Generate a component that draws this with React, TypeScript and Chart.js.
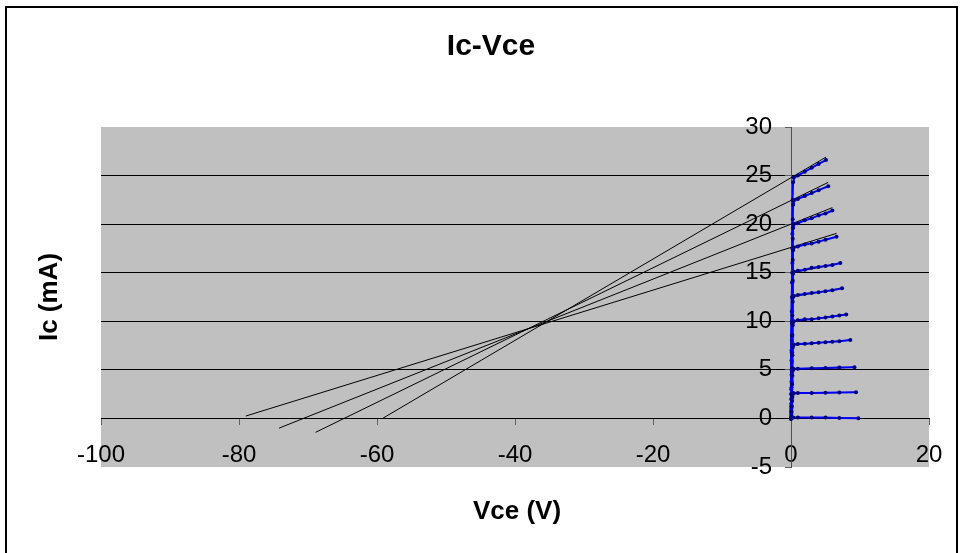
import React, { useEffect, useRef } from 'react';
import { Chart, registerables } from 'chart.js';

Chart.register(...registerables);

const chartTitle = 'Ic-Vce';
const xTitle = 'Vce (V)';
const yTitle = 'Ic (mA)';

const xMin = -100;
const xMax = 20;
const xStep = 20;
const yMin = -5;
const yMax = 30;
const yStep = 5;

// Measured curves (Vce in V, Ic in mA), one per base current step
const vce1 = [0, 0.1, 0.3, 1, 3, 5, 7, 9.76];
const ic1 = [0, 0.08, 0.1, 0.1, 0.1, 0.1, 0.05, 0.02];
const vce2 = [0, 0.04, 0.08, 0.12, 0.16, 0.2, 0.25, 0.3, 0.4, 1, 3, 5, 7, 9.43];
const ic2 = [0, 0.2, 0.7, 1.2, 1.8, 2.2, 2.5, 2.58, 2.6, 2.61, 2.63, 2.65, 2.67, 2.69];
const vce3 = [0, 0.04, 0.08, 0.12, 0.16, 0.2, 0.25, 0.3, 0.4, 1, 3, 5, 7, 9.2];
const ic3 = [0, 0.4, 1.3, 2.4, 3.5, 4.4, 4.9, 5.05, 5.1, 5.12, 5.16, 5.2, 5.23, 5.26];
const vce4 = [0, 0.04, 0.08, 0.12, 0.16, 0.2, 0.25, 0.3, 0.4, 1, 2, 3, 4, 5, 6, 7, 8.6];
const ic4 = [0, 0.6, 2.0, 3.6, 5.2, 6.5, 7.3, 7.5, 7.6, 7.65, 7.7, 7.75, 7.8, 7.85, 7.9, 7.95, 8.07];
const vce5 = [0, 0.04, 0.08, 0.12, 0.16, 0.2, 0.25, 0.3, 0.4, 1, 2, 3, 4, 5, 6, 7, 8.0];
const ic5 = [0, 0.8, 2.6, 4.7, 6.8, 8.6, 9.6, 9.9, 10.0, 10.1, 10.2, 10.2, 10.3, 10.4, 10.5, 10.6, 10.7];
const vce6 = [0, 0.04, 0.08, 0.12, 0.16, 0.2, 0.25, 0.3, 0.4, 1, 2, 3, 4, 5, 6, 7.4];
const ic6 = [0, 1.0, 3.2, 5.8, 8.4, 10.6, 12.0, 12.5, 12.6, 12.7, 12.8, 12.9, 13.0, 13.1, 13.2, 13.4];
const vce7 = [0, 0.04, 0.08, 0.12, 0.16, 0.2, 0.25, 0.3, 0.4, 1, 2, 3, 4, 5, 6, 7.15];
const ic7 = [0, 1.2, 3.8, 6.8, 9.8, 12.4, 14.2, 14.9, 15.1, 15.2, 15.3, 15.5, 15.6, 15.7, 15.8, 16.0];
const vce8 = [0, 0.04, 0.08, 0.12, 0.16, 0.2, 0.25, 0.3, 0.4, 1, 2, 3, 4, 5, 6.6];
const ic8 = [0, 1.5, 4.5, 8.0, 11.0, 14.0, 16.3, 17.3, 17.6, 17.7, 17.9, 18.0, 18.2, 18.4, 18.7];
const vce9 = [0, 0.04, 0.08, 0.12, 0.16, 0.2, 0.25, 0.3, 0.4, 1, 2, 3, 4, 5, 6.0];
const ic9 = [0, 2.0, 5.0, 8.5, 12.5, 16.0, 18.5, 19.6, 20.0, 20.1, 20.4, 20.6, 20.9, 21.1, 21.4];
const vce10 = [0, 0.04, 0.08, 0.12, 0.16, 0.2, 0.25, 0.3, 0.4, 1, 2, 3, 4, 5.4];
const ic10 = [0, 2.5, 6.0, 10.0, 14.0, 17.5, 20.5, 22.0, 22.4, 22.6, 22.9, 23.2, 23.5, 23.9];
const vce11 = [0, 0.04, 0.08, 0.12, 0.16, 0.2, 0.25, 0.3, 0.4, 1, 2, 3, 4, 5.07];
const ic11 = [0, 3.0, 7.0, 11.0, 15.0, 19.0, 22.5, 24.3, 24.8, 25.0, 25.4, 25.8, 26.2, 26.6];

const curveVce = [vce1, vce2, vce3, vce4, vce5, vce6, vce7, vce8, vce9, vce10, vce11];
const curveIc = [ic1, ic2, ic3, ic4, ic5, ic6, ic7, ic8, ic9, ic10, ic11];

// Linear fits of the flat part of the lower curves
const fitVce1 = [0.3, 9.76];
const fitIc1 = [0.1, 0.02];
const fitVce2 = [0.3, 9.43];
const fitIc2 = [2.58, 2.69];
const fitVce3 = [0.3, 9.2];
const fitIc3 = [5.05, 5.26];
const fitVce4 = [0.3, 8.6];
const fitIc4 = [7.55, 8.07];
const fitVce5 = [0.3, 8.0];
const fitIc5 = [9.95, 10.7];
const fitVce6 = [0.3, 7.4];
const fitIc6 = [12.55, 13.4];
const fitVce7 = [0.3, 7.15];
const fitIc7 = [15.0, 16.0];

// Early-voltage extrapolation lines
const earlyVce1 = [-59.1, 5.07];
const earlyIc1 = [0.04, 26.9];
const earlyVce2 = [-68.9, 5.4];
const earlyIc2 = [-1.43, 24.3];
const earlyVce3 = [-74.2, 6.0];
const earlyIc3 = [-1.0, 21.7];
const earlyVce4 = [-79.0, 6.6];
const earlyIc4 = [0.25, 19.05];

const blackVce = [fitVce1, fitVce2, fitVce3, fitVce4, fitVce5, fitVce6, fitVce7, earlyVce1, earlyVce2, earlyVce3, earlyVce4];
const blackIc = [fitIc1, fitIc2, fitIc3, fitIc4, fitIc5, fitIc6, fitIc7, earlyIc1, earlyIc2, earlyIc3, earlyIc4];

const FONT = '"Liberation Sans", Arial, sans-serif';

function pts(xs: number[], ys: number[]) {
  return xs.map((x, i) => ({ x, y: ys[i] }));
}

const decorPlugin = {
  id: 'decor',
  beforeDraw(chart: any) {
    const { ctx, chartArea } = chart;
    ctx.save();
    ctx.fillStyle = '#ffffff';
    ctx.fillRect(0, 0, chart.width, chart.height);
    ctx.fillStyle = '#C0C0C0';
    ctx.fillRect(chartArea.left, chartArea.top, chartArea.right - chartArea.left, chartArea.bottom - chartArea.top);
    ctx.restore();
  },
  afterDraw(chart: any) {
    const { ctx } = chart;
    ctx.save();
    ctx.strokeStyle = '#000000';
    ctx.lineWidth = 2;
    ctx.beginPath();
    ctx.moveTo(6, chart.height + 5);
    ctx.lineTo(6, 7);
    ctx.lineTo(957, 7);
    ctx.lineTo(957, chart.height + 5);
    ctx.stroke();
    ctx.fillStyle = '#000000';
    ctx.textAlign = 'center';
    ctx.textBaseline = 'middle';
    ctx.font = 'bold 30px ' + FONT;
    ctx.fillText(chartTitle, 491, 47);
    ctx.font = 'bold 26px ' + FONT;
    ctx.fillText(xTitle, 517, 512);
    ctx.translate(50, 297);
    ctx.rotate(-Math.PI / 2);
    ctx.fillText(yTitle, 0, 0);
    ctx.restore();
  },
};

export default function App() {
  const ref = useRef<HTMLCanvasElement | null>(null);
  useEffect(() => {
    document.body.style.margin = '0';
    const datasets: any[] = [];
    curveVce.forEach((xs, i) => {
      datasets.push({
        label: 'Ic' + (i + 1),
        data: pts(xs, curveIc[i]),
        borderColor: '#0000FF',
        backgroundColor: '#000080',
        borderWidth: 2,
        pointRadius: 2,
        pointBorderWidth: 0,
        showLine: true,
        order: 1,
      });
    });
    blackVce.forEach((xs, i) => {
      datasets.push({
        label: 'fit' + (i + 1),
        data: pts(xs, blackIc[i]),
        borderColor: '#000000',
        backgroundColor: '#000000',
        borderWidth: 1,
        pointRadius: 0,
        showLine: true,
        order: 2,
      });
    });
    const chart = new Chart(ref.current as HTMLCanvasElement, {
      type: 'scatter',
      data: { datasets },
      plugins: [decorPlugin],
      options: {
        animation: false,
        responsive: false,
        maintainAspectRatio: false,
        layout: { padding: { left: 101, right: 34, top: 127, bottom: 86 } },
        plugins: {
          legend: { display: false },
          title: { display: false },
          tooltip: { enabled: false },
        },
        scales: {
          x: {
            type: 'linear',
            min: xMin,
            max: xMax,
            position: { y: 0 } as any,
            afterFit: (s: any) => { s.height = 0; },
            ticks: {
              stepSize: xStep,
              color: '#000000',
              font: { family: FONT, size: 24 },
              padding: 17,
              maxRotation: 0,
            },
            grid: {
              drawOnChartArea: false,
              drawTicks: true,
              tickLength: 6,
              tickColor: '#606060',
            },
            border: { display: true, color: '#000000', width: 1 },
          },
          // label-carrying y scale, offset left of the zero line
          y: {
            type: 'linear',
            min: yMin,
            max: yMax,
            position: { x: -2.75 } as any,
            afterFit: (s: any) => { s.width = 0; },
            ticks: {
              stepSize: yStep,
              color: '#000000',
              font: { family: FONT, size: 24 },
            },
            grid: {
              drawOnChartArea: true,
              drawTicks: false,
              color: (c: any) => (c.tick && (c.tick.value === yMax || c.tick.value === yMin) ? 'rgba(0,0,0,0)' : '#000000'),
              lineWidth: 1,
            },
            border: { display: false },
          },
          // axis line and tick marks at Vce = 0
          y2: {
            type: 'linear',
            min: yMin,
            max: yMax,
            position: { x: 0 } as any,
            afterFit: (s: any) => { s.width = 0; },
            ticks: { stepSize: yStep, display: false },
            grid: {
              drawOnChartArea: false,
              drawTicks: true,
              tickLength: 6,
              tickColor: '#606060',
            },
            border: { display: true, color: '#505050', width: 1 },
          },
        },
      },
    });
    return () => chart.destroy();
  }, []);
  return (
    <div style={{ width: 963, height: 553 }}>
      <canvas ref={ref} width={963} height={553} style={{ display: 'block', width: 963, height: 553 }} />
    </div>
  );
}
